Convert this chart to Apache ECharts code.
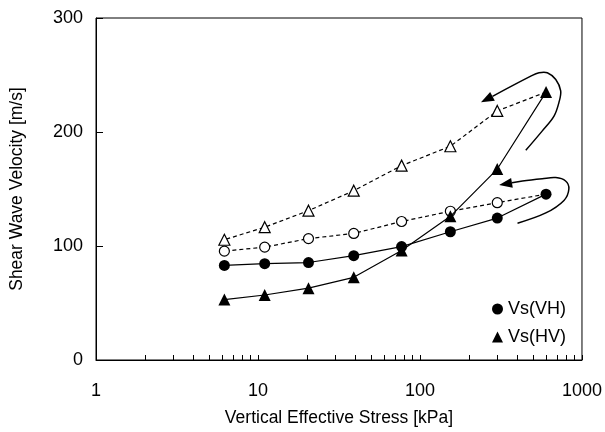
<!DOCTYPE html>
<html lang="en">
<head>
    <meta charset="UTF-8">
    <title>Shear Wave Velocity</title>
    <script src="https://cdn.jsdelivr.net/npm/echarts@6/dist/echarts.min.js"></script>
    <style>
        html, body { margin: 0; padding: 0; background: #fff; }
        #main { width: 605px; height: 432px; }
    </style>
</head>
<body>
<div id="main"></div>
<script type="text/javascript">
    // stress steps [kPa]
    var stress = [6.2, 11, 20.5, 39, 77, 154, 300, 600];
    // loading (solid) and unloading (dashed) velocities [m/s]
    var vhLoad = [83, 84.5, 85.5, 91.5, 99.5, 112.5, 124.5, 145.5];
    var vhUnload = [95.5, 99, 106.5, 111, 121.5, 130.5, 138];
    var hvLoad = [53, 57, 63, 72.5, 96, 126, 167.5, 235];
    var hvUnload = [105.5, 116.5, 131, 148.5, 170.5, 187.5, 218.5];
    var xTicks = [1, 10, 100, 1000];
    var yTicks = [0, 100, 200, 300];
    // hand drawn loop arrows (stress, velocity)
    var arrowHV = [[450, 184], [569, 201], [672, 214], [721, 226], [739, 236], [689, 246], [611, 252], [543, 252], [483, 249], [238, 226]];
    var arrowVH = [[400, 120], [598, 129], [774, 140], [830, 150], [792, 157], [689, 160], [569, 159], [429, 157], [308, 153.5]];

    var minorTicks = [];
    [1, 10, 100].forEach(function (d) {
        for (var k = 1; k <= 9; k++) minorTicks.push(d * k);
    });
    minorTicks.push(1000);

    function pairs(ys) {
        return ys.map(function (y, i) { return [stress[i], y]; });
    }
    // unloading starts from the last loading point
    function unloadPairs(ys, last) {
        var d = [{value: [stress[stress.length - 1], last], symbol: 'none'}];
        for (var i = ys.length - 1; i >= 0; i--) d.push([stress[i], ys[i]]);
        return d;
    }

    var arrows = [arrowHV, arrowVH];
    var font = 'Liberation Sans, Arial, sans-serif';

    var myChart = echarts.init(document.getElementById('main'));
    var option = {
        animation: false,
        textStyle: {fontFamily: font, color: '#000'},
        grid: {left: 95, right: 22, top: 18, bottom: 71, show: true, borderColor: '#000', borderWidth: 1},
        legend: {
            orient: 'vertical',
            right: 34,
            top: 295,
            itemGap: 10,
            itemWidth: 11,
            itemHeight: 11,
            textStyle: {fontSize: 18, color: '#000', fontFamily: font},
            data: [{name: 'Vs(VH)', icon: 'circle'}, {name: 'Vs(HV)', icon: 'triangle'}]
        },
        xAxis: {
            type: 'log',
            logBase: 10,
            min: 1,
            max: 1000,
            name: 'Vertical Effective Stress [kPa]',
            nameLocation: 'middle',
            nameGap: 49,
            nameTextStyle: {fontSize: 17.5, color: '#000'},
            axisLine: {lineStyle: {color: '#000'}},
            axisTick: {inside: true, length: 5, customValues: minorTicks, lineStyle: {color: '#000'}},
            axisLabel: {
                fontSize: 18, color: '#000', margin: 22, customValues: xTicks,
                formatter: function (v) { return String(v); }
            },
            splitLine: {show: false}
        },
        yAxis: {
            type: 'value',
            min: 0,
            max: 300,
            interval: 100,
            name: 'Shear Wave Velocity [m/s]',
            nameLocation: 'middle',
            nameGap: 70,
            nameTextStyle: {fontSize: 17.5, color: '#000'},
            axisLine: {show: true, lineStyle: {color: '#000'}},
            axisTick: {show: true, inside: true, length: 7, lineStyle: {color: '#000'}},
            axisLabel: {fontSize: 18, color: '#000', margin: 13, customValues: yTicks},
            splitLine: {show: false}
        },
        series: [
            {
                name: 'Vs(VH)', type: 'line', data: pairs(vhLoad), z: 4,
                symbol: 'circle', symbolSize: 11,
                itemStyle: {color: '#000'}, lineStyle: {color: '#000', width: 1.2}
            },
            {
                name: 'VH unload', type: 'line', data: unloadPairs(vhUnload, vhLoad[vhLoad.length - 1]), z: 3,
                symbol: 'circle', symbolSize: 10,
                itemStyle: {color: '#fff', borderColor: '#000', borderWidth: 1.2},
                lineStyle: {color: '#000', width: 1.2, type: [4, 3]}
            },
            {
                name: 'Vs(HV)', type: 'line', data: pairs(hvLoad), z: 4,
                symbol: 'triangle', symbolSize: 12,
                itemStyle: {color: '#000'}, lineStyle: {color: '#000', width: 1.2}
            },
            {
                name: 'HV unload', type: 'line', data: unloadPairs(hvUnload, hvLoad[hvLoad.length - 1]), z: 3,
                symbol: 'triangle', symbolSize: 11,
                itemStyle: {color: '#fff', borderColor: '#000', borderWidth: 1.2},
                lineStyle: {color: '#000', width: 1.2, type: [4, 3]}
            },
            {
                name: 'arrows', type: 'custom', coordinateSystem: 'cartesian2d', z: 5,
                data: [[0, 0], [1, 0]],
                encode: {x: -1, y: -1},
                renderItem: function (params, api) {
                    var pts = arrows[params.dataIndex].map(function (p) { return api.coord(p); });
                    var tip = pts[pts.length - 1];
                    var prev = pts[pts.length - 2];
                    var dx = tip[0] - prev[0], dy = tip[1] - prev[1];
                    var len = Math.sqrt(dx * dx + dy * dy);
                    var ux = dx / len, uy = dy / len;
                    var hl = 13, hw = 5;
                    var base = [tip[0] - ux * hl, tip[1] - uy * hl];
                    var body = pts.slice(0, pts.length - 1).concat([base]);
                    return {
                        type: 'group',
                        children: [
                            {
                                type: 'polyline',
                                shape: {points: body, smooth: 0.35},
                                style: {stroke: '#000', lineWidth: 1.5, fill: null}
                            },
                            {
                                type: 'polygon',
                                shape: {points: [tip, [base[0] - uy * hw, base[1] + ux * hw], [base[0] + uy * hw, base[1] - ux * hw]]},
                                style: {fill: '#000'}
                            }
                        ]
                    };
                }
            }
        ]
    };
    myChart.setOption(option);
</script>
</body>
</html>
